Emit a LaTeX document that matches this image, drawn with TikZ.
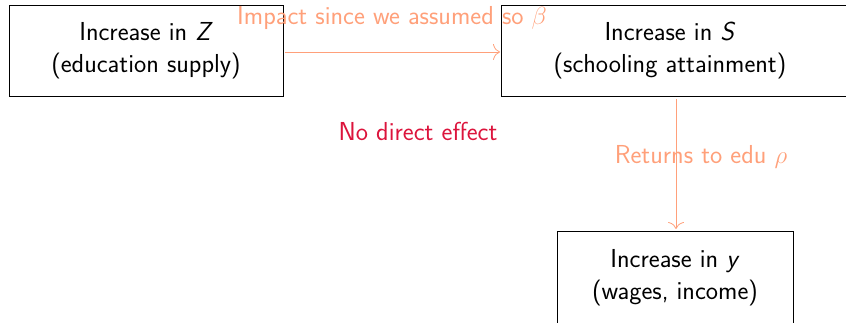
\documentclass[tikz,border=0pt]{standalone}
\usepackage{xcolor}
\definecolor{arrowsalmon}{RGB}{255,160,122}
\definecolor{effectred}{RGB}{220,20,60}
\usetikzlibrary{arrows.meta}
\tikzset{
  box/.style={draw=black, line width=0.9pt, rectangle, align=center, font=\sffamily\fontsize{26}{32}\selectfont},
  flow/.style={draw=arrowsalmon, line width=0.8pt, -{To[length=7pt,width=16pt]}},
  flowlabel/.style={text=arrowsalmon, font=\sffamily\fontsize{26}{30}\selectfont, inner sep=0pt},
}
\begin{document}
\begin{tikzpicture}[x=1pt,y=-1pt]
\useasboundingbox (0,0) rectangle (846,323);
\clip (0,0) rectangle (846,323);
% the three boxes
\node[box, minimum width=274pt, minimum height=91pt] (Z) at (146,50.5) {Increase in \textit{Z}\\(education supply)};
\node[box, minimum width=350pt, minimum height=91pt, anchor=west] (S) at (501,50.5) {};
\node[box, draw=none] (Stext) at (670,50.5) {Increase in \textit{S}\\(schooling attainment)};
\node[box, minimum width=236pt, minimum height=93pt, anchor=north] (Y) at (675,231) {Increase in \textit{y}\\(wages, income)};
% connectors
\coordinate (Sin) at (500,52);
\coordinate (Sout) at (676,99);
\coordinate (Yin) at (676,229);
\draw[flow] (Z.east |- Sin) ++(2,0) coordinate (Zout) -- (Sin);
\draw[flow] (Sout) -- (Yin);
% labels
\node[flowlabel] (beta) at (392,18) {Impact since we assumed so $\beta$};
\node[flowlabel] (rho) at (701,157) {Returns to edu $\rho$};
\node[text=effectred, font=\sffamily\fontsize{26}{30}\selectfont, inner sep=0pt] (nodirect) at (418,131) {No direct effect};
\end{tikzpicture}
\end{document}
